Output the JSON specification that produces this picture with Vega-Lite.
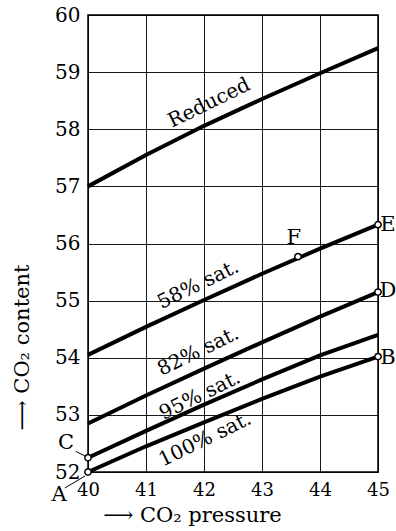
{
  "$schema": "https://vega.github.io/schema/vega-lite/v6.json",
  "width": 290,
  "height": 457,
  "autosize": "none",
  "padding": {"left": 88, "top": 15, "right": 18, "bottom": 59},
  "background": "white",
  "config": {
    "view": {"stroke": "black", "strokeWidth": 1.5},
    "font": "DejaVu Serif",
    "text": {"font": "DejaVu Serif", "color": "black"}
  },
  "datasets": {
    "curves": [
      {"series": "Reduced", "pressure": 40, "content": 57.0},
      {"series": "Reduced", "pressure": 41, "content": 57.55},
      {"series": "Reduced", "pressure": 42, "content": 58.06},
      {"series": "Reduced", "pressure": 43, "content": 58.53},
      {"series": "Reduced", "pressure": 44, "content": 58.98},
      {"series": "Reduced", "pressure": 45, "content": 59.42},
      {"series": "58% sat.", "pressure": 40, "content": 54.05},
      {"series": "58% sat.", "pressure": 41, "content": 54.54},
      {"series": "58% sat.", "pressure": 42, "content": 55.01},
      {"series": "58% sat.", "pressure": 43, "content": 55.47},
      {"series": "58% sat.", "pressure": 44, "content": 55.91},
      {"series": "58% sat.", "pressure": 45, "content": 56.33},
      {"series": "82% sat.", "pressure": 40, "content": 52.85},
      {"series": "82% sat.", "pressure": 41, "content": 53.34},
      {"series": "82% sat.", "pressure": 42, "content": 53.81},
      {"series": "82% sat.", "pressure": 43, "content": 54.27},
      {"series": "82% sat.", "pressure": 44, "content": 54.72},
      {"series": "82% sat.", "pressure": 45, "content": 55.15},
      {"series": "95% sat.", "pressure": 40, "content": 52.25},
      {"series": "95% sat.", "pressure": 41, "content": 52.72},
      {"series": "95% sat.", "pressure": 42, "content": 53.18},
      {"series": "95% sat.", "pressure": 43, "content": 53.62},
      {"series": "95% sat.", "pressure": 44, "content": 54.04},
      {"series": "95% sat.", "pressure": 45, "content": 54.4},
      {"series": "100% sat.", "pressure": 40, "content": 52.0},
      {"series": "100% sat.", "pressure": 41, "content": 52.45},
      {"series": "100% sat.", "pressure": 42, "content": 52.87},
      {"series": "100% sat.", "pressure": 43, "content": 53.28},
      {"series": "100% sat.", "pressure": 44, "content": 53.67},
      {"series": "100% sat.", "pressure": 45, "content": 54.02}
    ],
    "points": [
      {"name": "A", "pressure": 40, "content": 52.0},
      {"name": "C", "pressure": 40, "content": 52.25},
      {"name": "B", "pressure": 45, "content": 54.02},
      {"name": "D", "pressure": 45, "content": 55.15},
      {"name": "E", "pressure": 45, "content": 56.33},
      {"name": "F", "pressure": 43.62, "content": 55.77}
    ],
    "curveLabels": [
      {"label": "Reduced", "pressure": 42.09, "content": 58.46},
      {"label": "58% sat.", "pressure": 41.9, "content": 55.28},
      {"label": "82% sat.", "pressure": 41.9, "content": 54.11},
      {"label": "95% sat.", "pressure": 41.93, "content": 53.34},
      {"label": "100% sat.", "pressure": 42.02, "content": 52.57}
    ],
    "letters": [
      {"label": "F", "pressure": 43.55, "content": 56.1},
      {"label": "E", "pressure": 45.17, "content": 56.33},
      {"label": "D", "pressure": 45.17, "content": 55.16},
      {"label": "B", "pressure": 45.17, "content": 54.0},
      {"label": "C", "pressure": 39.62, "content": 52.5},
      {"label": "A", "pressure": 39.5, "content": 51.6}
    ],
    "leaders": [
      {"name": "C", "pressure": 39.79, "content": 52.36, "pressure2": 39.95, "content2": 52.28},
      {"name": "A", "pressure": 39.6, "content": 51.72, "pressure2": 39.95, "content2": 51.93}
    ]
  },
  "layer": [
    {
      "data": {"name": "curves"},
      "mark": {"type": "line", "color": "black", "strokeWidth": 4, "strokeCap": "butt"},
      "encoding": {
        "x": {
          "field": "pressure", "type": "quantitative",
          "scale": {"domain": [40, 45], "nice": false, "zero": false},
          "axis": {
            "values": [40, 41, 42, 43, 44, 45], "format": "d", "labelFlush": false,
            "grid": true, "gridColor": "black", "gridWidth": 1, "gridOpacity": 0.9,
            "domain": false, "ticks": false, "tickSize": 0,
            "labelFontSize": 18, "labelPadding": 9, "labelColor": "black", "labelFont": "DejaVu Serif",
            "title": "⟶ CO₂ pressure", "titleFont": "DejaVu Serif", "titleFontSize": 21,
            "titleFontWeight": "normal", "titleColor": "black",
            "titleX": 104, "titleY": 43, "titleBaseline": "middle", "titleAlign": "center"
          }
        },
        "y": {
          "field": "content", "type": "quantitative",
          "scale": {"domain": [52, 60], "nice": false, "zero": false},
          "axis": {
            "values": [52, 53, 54, 55, 56, 57, 58, 59, 60], "format": "d", "labelFlush": false,
            "grid": true, "gridColor": "black", "gridWidth": 1, "gridOpacity": 0.9,
            "domain": false, "ticks": false, "tickSize": 0,
            "labelFontSize": 20, "labelPadding": 8, "labelColor": "black", "labelFont": "DejaVu Serif",
            "title": "⟶ CO₂ content", "titleFont": "DejaVu Serif", "titleFontSize": 21,
            "titleFontWeight": "normal", "titleColor": "black",
            "titleX": -66, "titleY": 332, "titleAngle": -90, "titleBaseline": "middle", "titleAlign": "center"
          }
        },
        "detail": {"field": "series"}
      }
    },
    {
      "data": {"name": "leaders"},
      "mark": {"type": "rule", "color": "black", "strokeWidth": 1},
      "encoding": {
        "x": {"field": "pressure", "type": "quantitative", "scale": {"domain": [40, 45], "nice": false, "zero": false}},
        "y": {"field": "content", "type": "quantitative", "scale": {"domain": [52, 60], "nice": false, "zero": false}},
        "x2": {"field": "pressure2"},
        "y2": {"field": "content2"}
      }
    },
    {
      "data": {"name": "points"},
      "mark": {"type": "point", "shape": "circle", "filled": true, "fill": "white", "stroke": "black", "strokeWidth": 1.5, "size": 40, "opacity": 1},
      "encoding": {
        "x": {"field": "pressure", "type": "quantitative", "scale": {"domain": [40, 45], "nice": false, "zero": false}},
        "y": {"field": "content", "type": "quantitative", "scale": {"domain": [52, 60], "nice": false, "zero": false}}
      }
    },
    {
      "data": {"name": "curveLabels"},
      "mark": {"type": "text", "angle": -26, "fontSize": 20, "align": "center", "baseline": "middle", "font": "DejaVu Serif"},
      "encoding": {
        "x": {"field": "pressure", "type": "quantitative", "scale": {"domain": [40, 45], "nice": false, "zero": false}},
        "y": {"field": "content", "type": "quantitative", "scale": {"domain": [52, 60], "nice": false, "zero": false}},
        "text": {"field": "label"}
      }
    },
    {
      "data": {"name": "letters"},
      "mark": {"type": "text", "fontSize": 21, "align": "center", "baseline": "middle", "font": "DejaVu Serif"},
      "encoding": {
        "x": {"field": "pressure", "type": "quantitative", "scale": {"domain": [40, 45], "nice": false, "zero": false}},
        "y": {"field": "content", "type": "quantitative", "scale": {"domain": [52, 60], "nice": false, "zero": false}},
        "text": {"field": "label"}
      }
    }
  ]
}
